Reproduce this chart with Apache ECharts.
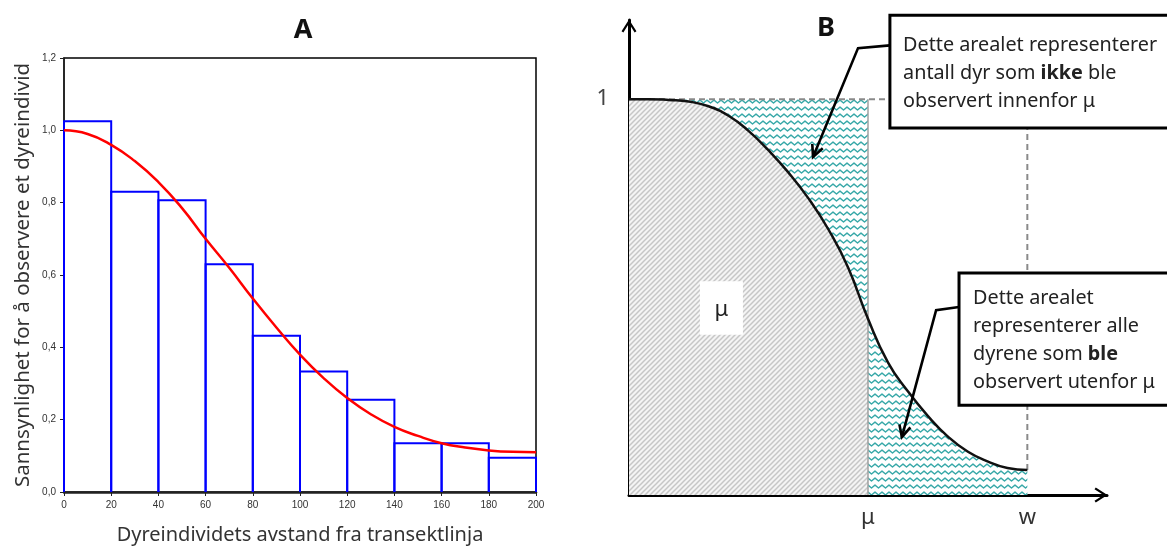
<!DOCTYPE html>
<html><head><meta charset="utf-8">
<script src="https://cdn.jsdelivr.net/npm/echarts@6/dist/echarts.min.js"></script>
<style>html,body{margin:0;padding:0;background:#fff}#c{width:1167px;height:550px}</style>
</head><body><div id="c"></div>
<script>
// ---------- Panel A data ----------
const binEdges   = [0, 20, 40, 60, 80, 100, 120, 140, 160, 180, 200];
const binHeights = [1.025, 0.83, 0.807, 0.63, 0.432, 0.333, 0.255, 0.135, 0.135, 0.095];
const curveAx = [0, 10, 20, 30, 40, 50, 60, 70, 80, 90, 100, 110, 120, 130, 140, 150, 160, 170, 180, 190, 200];
const curveAy = [1.0, 0.99, 0.96, 0.915, 0.857, 0.785, 0.70, 0.62, 0.535, 0.455, 0.38, 0.315, 0.26, 0.215, 0.18, 0.155, 0.135, 0.123, 0.115, 0.111, 0.11];
const xNameA = 'Dyreindividets avstand fra transektlinja';
const yNameA = 'Sannsynlighet for å observere et dyreindivid';

// ---------- Panel B data ----------
const curveBx = [0, 0.5, 1, 1.5, 2, 2.5, 3, 3.5, 4, 4.5, 5, 5.5, 6, 6.5, 7, 7.5, 8, 8.5, 9, 9.5, 10];
const curveBy = [1.0, 1.0, 0.998, 0.994, 0.982, 0.958, 0.92, 0.871, 0.815, 0.75, 0.672, 0.575, 0.445, 0.335, 0.262, 0.2, 0.148, 0.11, 0.085, 0.068, 0.063];
const MU = 6, W = 10;
const xLabelsB = {6: 'μ', 10: 'w'};
const yLabelsB = {1: '1'};

// annotation anchors (in panel B data units)
const callout1 = {box: [6.55, 1.212, 13.9, 0.927], textAt: [6.88, 1.172],
  text: 'Dette arealet representerer\nantall dyr som {b|ikke} ble\nobservert innenfor μ',
  leader: [[6.55, 1.136], [5.75, 1.129], [4.62, 0.854]]};
const callout2 = {box: [8.285, 0.561, 13.9, 0.227], textAt: [8.637, 0.533],
  text: 'Dette arealet\nrepresenterer alle\ndyrene som {b|ble}\nobservert utenfor μ',
  leader: [[8.285, 0.475], [7.71, 0.467], [6.85, 0.146]]};
const muBox = {box: [1.78, 0.54, 2.86, 0.405], textAt: [2.32, 0.468], text: 'μ'};

const FONT = '"Noto Sans", "Open Sans", sans-serif';
const CALLOUT_SIZE = 19.8;

// ---------- patterns ----------
function hatchPattern() {
  const s = 5, c = document.createElement('canvas'); c.width = c.height = s;
  const g = c.getContext('2d');
  g.fillStyle = '#f4f4f4'; g.fillRect(0, 0, s, s);
  g.strokeStyle = '#c6c6c6'; g.lineWidth = 1.5;
  g.beginPath();
  g.moveTo(-1, s + 1); g.lineTo(s + 1, -1);
  g.moveTo(-1, 1); g.lineTo(1, -1);
  g.moveTo(s - 1, s + 1); g.lineTo(s + 1, s - 1);
  g.stroke();
  return c;
}
function wavePattern() {
  const w = 7, h = 7, c = document.createElement('canvas'); c.width = w; c.height = h;
  const g = c.getContext('2d');
  g.fillStyle = '#ffffff'; g.fillRect(0, 0, w, h);
  g.strokeStyle = '#37a8a8'; g.lineWidth = 1.4; g.lineJoin = 'round';
  g.beginPath();
  g.moveTo(-1.75, 4.4); g.lineTo(0, 2.0); g.lineTo(3.5, 5.0); g.lineTo(7, 2.0); g.lineTo(8.75, 4.4);
  g.stroke();
  return c;
}
const HATCH = {image: hatchPattern(), repeat: 'repeat'};
const WAVE = {image: wavePattern(), repeat: 'repeat'};

const chart = echarts.init(document.getElementById('c'));

function curvePts(from, to) {
  const pts = [];
  curveBx.forEach((x, i) => { if (x >= from - 1e-9 && x <= to + 1e-9) pts.push([x, curveBy[i]]); });
  return pts;
}

function arrowEls(api, leader) {
  const p = leader.map(d => api.coord(d));
  const a = p[p.length - 2], b = p[p.length - 1];
  const ang = Math.atan2(b[1] - a[1], b[0] - a[0]);
  const L = 13, sp = 0.45;
  const h1 = [b[0] - L * Math.cos(ang - sp), b[1] - L * Math.sin(ang - sp)];
  const h2 = [b[0] - L * Math.cos(ang + sp), b[1] - L * Math.sin(ang + sp)];
  return [
    {type: 'polyline', shape: {points: p}, style: {stroke: '#000', lineWidth: 2.6, fill: null}},
    {type: 'polyline', shape: {points: [h1, b, h2]}, style: {stroke: '#000', lineWidth: 2.6, fill: null, lineJoin: 'miter'}}
  ];
}
function boxEl(api, bx, lw) {
  const p1 = api.coord([bx[0], bx[1]]), p2 = api.coord([bx[2], bx[3]]);
  return {type: 'rect', shape: {x: p1[0], y: p1[1], width: p2[0] - p1[0], height: p2[1] - p1[1]},
    style: {fill: '#fff', stroke: lw ? '#000' : null, lineWidth: lw || 0}};
}
function textEl(api, at, text, opts) {
  const p = api.coord(at);
  return {type: 'text', x: p[0], y: p[1], style: Object.assign({
    text: text, fontSize: CALLOUT_SIZE, fontFamily: FONT, fill: '#222', lineHeight: 28,
    rich: {b: {fontWeight: 'bold', fontSize: CALLOUT_SIZE, fontFamily: FONT, lineHeight: 28, fill: '#222'}}
  }, opts || {})};
}

const option = {
  animation: false,
  backgroundColor: '#fff',
  graphic: [
    {type: 'text', x: 303, y: 30, style: {text: 'A', font: 'bold 27px ' + FONT, fill: '#111', align: 'center', verticalAlign: 'middle'}},
    {type: 'text', x: 826, y: 28, style: {text: 'B', font: 'bold 27px ' + FONT, fill: '#111', align: 'center', verticalAlign: 'middle'}}
  ],
  grid: [
    {left: 64, right: 631, top: 58, bottom: 58, show: true, borderColor: '#000', borderWidth: 1.5, backgroundColor: '#fff'},
    {left: 629, right: 60, top: 20, bottom: 55, show: false}
  ],
  xAxis: [
    {gridIndex: 0, type: 'value', min: 0, max: 200, interval: 20,
      name: xNameA, nameLocation: 'middle', nameGap: 33,
      nameTextStyle: {fontSize: 20, fontFamily: FONT, color: '#333'},
      axisLine: {lineStyle: {color: '#222', width: 2.5}},
      axisTick: {show: true, inside: false, length: 4, lineStyle: {color: '#222'}},
      axisLabel: {fontSize: 10, color: '#333', margin: 8, fontFamily: '"Liberation Sans Narrow", "Liberation Sans", sans-serif'},
      splitLine: {show: false}},
    {gridIndex: 1, type: 'value', min: 0, max: 12, interval: 2,
      axisLine: {lineStyle: {color: '#000', width: 3},
        symbol: ['none', 'path://M0,0 L7,11 L5.3,12.2 L0,3.8 L-5.3,12.2 L-7,11 Z'],
        symbolSize: [15, 13], symbolOffset: [0, -6]},
      axisTick: {show: false}, splitLine: {show: false},
      axisLabel: {formatter: v => xLabelsB[v] || '', fontSize: 22, color: '#333', margin: 12, fontFamily: FONT}}
  ],
  yAxis: [
    {gridIndex: 0, type: 'value', min: 0, max: 1.2, interval: 0.2,
      name: yNameA, nameLocation: 'middle', nameGap: 30, nameRotate: 90,
      nameTextStyle: {fontSize: 20.5, fontFamily: FONT, color: '#333'},
      axisLine: {show: true, lineStyle: {color: '#222', width: 1.5}},
      axisTick: {show: true, inside: false, length: 4, lineStyle: {color: '#222'}},
      axisLabel: {formatter: v => v.toFixed(1).replace('.', ','), fontSize: 10, color: '#333', margin: 8,
        fontFamily: '"Liberation Sans Narrow", "Liberation Sans", sans-serif'},
      splitLine: {show: false}},
    {gridIndex: 1, type: 'value', min: 0, max: 1.2, interval: 1,
      axisLine: {show: true, lineStyle: {color: '#000', width: 3},
        symbol: ['none', 'path://M0,0 L7,11 L5.3,12.2 L0,3.8 L-5.3,12.2 L-7,11 Z'],
        symbolSize: [15, 13], symbolOffset: [0, -6]},
      axisTick: {show: false}, splitLine: {show: false},
      axisLabel: {formatter: v => yLabelsB[v] || '', fontSize: 22, color: '#444', margin: 20, fontFamily: FONT}}
  ],
  series: [
    // Panel A histogram (step outlines)
    {type: 'custom', xAxisIndex: 0, yAxisIndex: 0, z: 2,
      data: binHeights.map((h, i) => [binEdges[i], binEdges[i + 1], h]),
      encode: {x: [0, 1], y: 2},
      renderItem: function (params, api) {
        const x0 = api.value(0), x1 = api.value(1), h = api.value(2);
        const pts = [api.coord([x0, 0]), api.coord([x0, h]), api.coord([x1, h]), api.coord([x1, 0])];
        return {type: 'polyline', shape: {points: pts}, style: {stroke: '#0000ff', lineWidth: 2, fill: null}};
      }},
    // Panel A fitted curve
    {type: 'line', xAxisIndex: 0, yAxisIndex: 0, z: 3, smooth: true, symbol: 'none',
      data: curveAx.map((x, i) => [x, curveAy[i]]),
      lineStyle: {color: '#ff0000', width: 2.5}},
    // Panel B: wavy block between 0 and mu, up to 1 (covered below the curve by the hatched area)
    {type: 'custom', xAxisIndex: 1, yAxisIndex: 1, z: 1, silent: true,
      data: [[0, 0]],
      renderItem: function (params, api) {
        const pts = [[0, 0], [0, 1], [MU, 1], [MU, 0]];
        return {type: 'polygon', shape: {points: pts.map(p => api.coord(p))}, style: {fill: WAVE, stroke: null}};
      }},
    // Panel B: hatched area under curve (0..mu)
    {type: 'line', xAxisIndex: 1, yAxisIndex: 1, z: 2, smooth: 0.5, symbol: 'none', silent: true,
      data: curvePts(0, MU), lineStyle: {width: 0, opacity: 0},
      areaStyle: {color: HATCH, opacity: 1}},
    // Panel B: wavy area under curve (mu..w)
    {type: 'line', xAxisIndex: 1, yAxisIndex: 1, z: 2, smooth: 0.5, symbol: 'none', silent: true,
      data: curvePts(MU, W), lineStyle: {width: 0, opacity: 0},
      areaStyle: {color: WAVE, opacity: 1}},
    // Panel B reference lines
    {type: 'custom', xAxisIndex: 1, yAxisIndex: 1, z: 3, silent: true,
      data: [[0, 0]],
      renderItem: function (params, api) {
        const c = api.coord;
        const yEnd = curveBy[curveBy.length - 1];
        return {type: 'group', children: [
          {type: 'line', shape: {x1: c([MU, 0])[0], y1: c([MU, 0])[1], x2: c([MU, 1])[0], y2: c([MU, 1])[1]},
            style: {stroke: '#a0a0a0', lineWidth: 1.5}},
          {type: 'line', shape: {x1: c([0, 1])[0], y1: c([0, 1])[1], x2: c([callout1.box[0], 1])[0], y2: c([0, 1])[1]},
            style: {stroke: '#8a8a8a', lineWidth: 2, lineDash: [6, 4]}},
          {type: 'line', shape: {x1: c([W, yEnd])[0], y1: c([W, yEnd])[1], x2: c([W, callout1.box[3]])[0], y2: c([W, callout1.box[3]])[1]},
            style: {stroke: '#8a8a8a', lineWidth: 2, lineDash: [6, 4]}}
        ]};
      }},
    // Panel B curve
    {type: 'line', xAxisIndex: 1, yAxisIndex: 1, z: 4, smooth: 0.5, symbol: 'none',
      data: curveBx.map((x, i) => [x, curveBy[i]]),
      lineStyle: {color: '#111', width: 2.5}},
    // Panel B annotations
    {type: 'custom', xAxisIndex: 1, yAxisIndex: 1, z: 5, silent: true,
      data: [[0, 0]],
      renderItem: function (params, api) {
        const ch = [];
        ch.push(boxEl(api, muBox.box, 0));
        ch.push(textEl(api, muBox.textAt, muBox.text, {fontSize: 22, align: 'center', verticalAlign: 'middle', fill: '#222'}));
        [callout1, callout2].forEach(cb => {
          ch.push(boxEl(api, cb.box, 3));
          ch.push(textEl(api, cb.textAt, cb.text, {verticalAlign: 'top', align: 'left'}));
          arrowEls(api, cb.leader).forEach(e => ch.push(e));
        });
        return {type: 'group', children: ch};
      }}
  ]
};
chart.setOption(option);
</script>
</body></html>
